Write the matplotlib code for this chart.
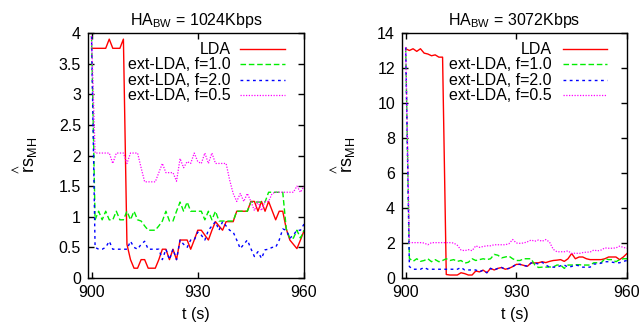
import numpy as np
import matplotlib
matplotlib.use("Agg")
import matplotlib.pyplot as plt
from matplotlib.lines import Line2D

plt.rcParams['font.family'] = ['Liberation Sans', 'DejaVu Sans']
plt.rcParams['mathtext.default'] = 'regular'

t = np.arange(900, 961)

titles = ["HA$_{BW}$ = 1024Kbps", "HA$_{BW}$ = 3072Kbps"]
labels = ["LDA", "ext-LDA, f=1.0", "ext-LDA, f=2.0", "ext-LDA, f=0.5"]

lda_1024 = [3.75, 3.75, 3.75, 3.75, 3.75, 3.9, 3.75, 3.75, 3.75, 3.9,
            0.55, 0.3, 0.16, 0.16, 0.3, 0.3, 0.16, 0.16, 0.16, 0.3,
            0.47, 0.47, 0.3, 0.47, 0.3, 0.62, 0.62, 0.62, 0.47, 0.62,
            0.78, 0.78, 0.7, 0.62, 0.78, 0.92, 0.85, 0.78, 0.92, 0.92,
            0.92, 1.09, 1.09, 1.09, 1.09, 1.25, 1.25, 1.09, 1.25, 1.09,
            1.25, 1.1, 0.95, 1.09, 1.09, 0.8, 0.62, 0.55, 0.48, 0.62, 0.77]
f10_1024 = [3.95, 0.95, 1.09, 0.95, 1.09, 0.95, 0.95, 1.09, 0.95, 0.95,
            1.09, 0.95, 1.09, 0.95, 0.93, 0.85, 0.78, 0.78, 0.78, 0.85,
            0.93, 1.09, 0.93, 0.93, 1.09, 1.24, 1.09, 1.24, 1.09, 1.09,
            1.09, 1.09, 0.95, 1.09, 0.95, 1.09, 0.93, 0.93, 0.93, 0.93,
            0.93, 1.09, 1.09, 1.09, 1.09, 1.24, 1.24, 1.24, 1.24, 1.24,
            1.4, 1.4, 1.4, 1.4, 1.4, 0.8, 0.65, 0.65, 0.78, 0.65, 0.78]
f20_1024 = [3.95, 0.5, 0.47, 0.47, 0.5, 0.6, 0.47, 0.47, 0.47, 0.47,
            0.47, 0.6, 0.5, 0.47, 0.55, 0.6, 0.47, 0.47, 0.47, 0.47,
            0.3, 0.47, 0.3, 0.47, 0.3, 0.62, 0.55, 0.5, 0.62, 0.62,
            0.75, 0.7, 0.62, 0.78, 0.85, 0.92, 0.78, 0.92, 0.85, 0.78,
            0.75, 0.62, 0.48, 0.55, 0.62, 0.48, 0.35, 0.43, 0.32, 0.46,
            0.47, 0.5, 0.5, 0.62, 0.8, 0.78, 0.65, 0.7, 0.78, 0.78, 0.88]
f05_1024 = [3.95, 2.04, 2.04, 2.04, 2.04, 2.04, 1.87, 2.04, 2.04, 2.04,
            1.87, 2.04, 2.04, 2.04, 1.8, 1.57, 1.57, 1.57, 1.57, 1.72,
            1.87, 1.72, 1.72, 1.72, 1.58, 1.95, 1.8, 1.9, 1.87, 2.04,
            1.9, 1.87, 2.04, 1.87, 2.04, 1.87, 1.87, 1.87, 1.87, 1.6,
            1.38, 1.25, 1.38, 1.25, 1.38, 1.25, 1.1, 1.25, 1.1, 1.25,
            1.25, 1.38, 1.4, 1.4, 1.4, 1.4, 1.4, 1.4, 1.5, 1.4, 1.5]

lda_3072 = [13.1, 13.0, 13.1, 12.95, 13.1, 12.85, 12.8, 12.7, 12.75, 12.62,
            12.62, 0.2, 0.17, 0.17, 0.17, 0.3, 0.25, 0.17, 0.17, 0.4,
            0.35, 0.45, 0.3, 0.55, 0.46, 0.55, 0.6, 0.5, 0.55, 0.65,
            0.78, 0.78, 0.72, 0.67, 0.86, 0.86, 0.87, 0.93, 0.88, 0.95,
            1.0, 1.02, 1.05, 0.95, 1.1, 1.4, 1.1, 1.2, 1.2, 1.1,
            1.05, 1.05, 1.05, 1.05, 1.1, 1.2, 1.2, 1.2, 1.05, 1.2, 1.4]
f10_3072 = [13.2, 1.12, 0.95, 1.1, 0.95, 1.0, 1.1, 0.93, 1.05, 0.93,
            1.0, 1.1, 1.0, 1.05, 0.95, 1.0, 0.85, 0.9, 1.1, 1.0,
            1.05, 1.1, 1.05, 1.1, 1.35, 1.3, 1.15, 1.2, 1.25, 1.1,
            1.0, 1.0, 1.1, 1.1, 1.1, 0.75, 0.6, 0.62, 0.62, 0.63,
            0.63, 0.74, 0.74, 0.55, 0.74, 0.74, 0.76, 0.76, 0.74, 0.74,
            0.74, 0.87, 0.87, 0.87, 1.1, 1.05, 1.05, 0.93, 1.05, 1.1, 1.1]
f20_3072 = [13.2, 0.65, 0.5, 0.5, 0.5, 0.6, 0.5, 0.5, 0.5, 0.5,
            0.5, 0.5, 0.5, 0.5, 0.5, 0.6, 0.46, 0.46, 0.46, 0.46,
            0.35, 0.45, 0.3, 0.55, 0.46, 0.55, 0.6, 0.5, 0.55, 0.65,
            0.78, 0.78, 0.72, 0.67, 0.86, 0.86, 0.8, 0.9, 0.74, 0.62,
            0.62, 0.62, 0.7, 0.74, 0.62, 0.66, 0.74, 0.7, 0.62, 0.62,
            0.62, 0.8, 0.8, 0.85, 0.93, 0.93, 0.9, 0.87, 0.87, 0.95, 1.0]
f05_3072 = [13.2, 2.02, 2.02, 2.02, 2.02, 2.0, 1.9, 2.02, 2.02, 2.02,
            2.02, 2.02, 2.02, 2.0, 1.87, 1.6, 1.56, 1.62, 1.56, 1.84,
            1.75, 1.8, 1.84, 1.84, 1.9, 1.9, 1.9, 1.9, 1.96, 2.2,
            2.0, 1.98, 2.0, 2.07, 2.17, 2.1, 2.17, 2.1, 2.2, 2.05,
            1.64, 1.5, 1.5, 1.5, 1.55, 1.4, 1.42, 1.4, 1.45, 1.48,
            1.48, 1.6, 1.55, 1.6, 1.72, 1.7, 1.7, 1.72, 1.82, 1.75, 1.7]

yticks_1024 = [0, 0.5, 1, 1.5, 2, 2.5, 3, 3.5, 4]
yticks_3072 = [0, 2, 4, 6, 8, 10, 12, 14]
xticks = [900, 930, 960]

styles = [dict(color='#ff0000', ls='-', lw=1.0),
          dict(color='#00ee00', ls=(0, (4, 2)), lw=1.0),
          dict(color='#0000ff', ls=(0, (2, 2.5)), lw=1.0),
          dict(color='#ff00ff', ls=(0, (1, 1.2)), lw=0.9)]

FS = 11.5
fig = plt.figure(figsize=(6.41, 3.33), dpi=100)
ax1 = fig.add_axes([88/641, 55/333, 216/641, 245/333])
ax2 = fig.add_axes([402/641, 55/333, 225/641, 245/333])

panels = [(ax1, [lda_1024, f10_1024, f20_1024, f05_1024], (0, 4), yticks_1024, titles[0], -0.222,
           0.661, 0.704, 0.912),
          (ax2, [lda_3072, f10_3072, f20_3072, f05_3072], (0, 14), yticks_3072, titles[1], -0.196,
           0.665, 0.716, 0.91)]
row_y = [0.933, 0.873, 0.808, 0.745]

for ax, series, ylim, yt, title, ylx, tx_end, h0, h1 in panels:
    for s, st, lab in zip(series, styles, labels):
        ax.plot(t, s, label=lab, **st)
    ax.set_xlim(899, 960)
    ax.set_ylim(*ylim)
    ax.set_xticks(xticks)
    ax.set_yticks(yt)
    ax.set_yticklabels([f"{v:g}" for v in yt])
    ax.tick_params(direction='in', top=True, right=True, labelsize=FS, length=4, width=1, pad=5)
    for sp in ax.spines.values():
        sp.set_linewidth(1.0)
    ax.set_title(title, fontsize=FS, pad=6)
    ax.set_xlabel("t (s)", fontsize=FS, labelpad=5)
    ax.set_ylabel(r"$\overset{\wedge}{r}s_{MH}$", fontsize=13)
    ax.yaxis.set_label_coords(ylx, 0.5)
    # gnuplot-style key: right-aligned text followed by the line sample
    for yy, st, lab in zip(row_y, styles, labels):
        ax.text(tx_end, yy, lab, transform=ax.transAxes, ha='right', va='center', fontsize=FS)
        ax.add_line(Line2D([h0, h1], [yy, yy], transform=ax.transAxes, **st))

fig.savefig("out.png", dpi=100)
